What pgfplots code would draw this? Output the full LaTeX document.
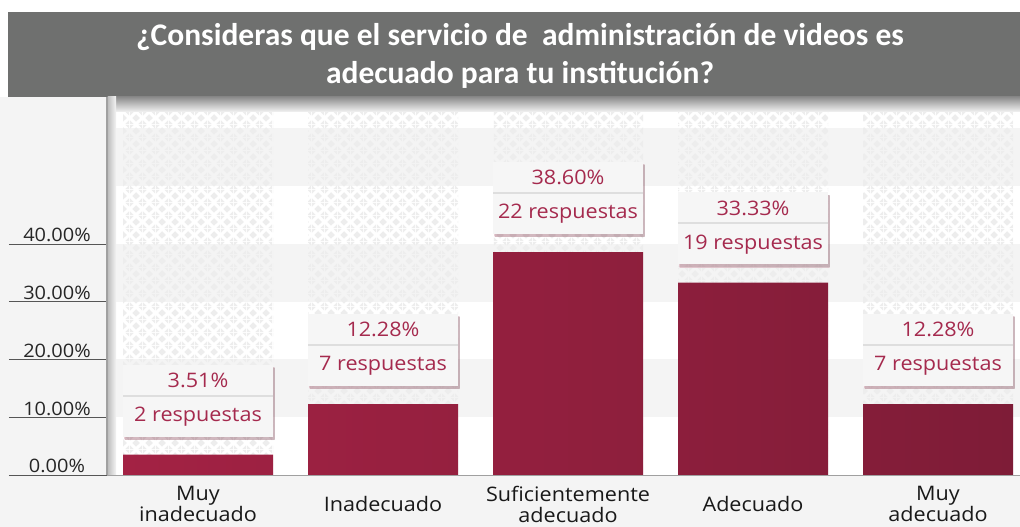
\documentclass[border=0pt]{standalone}
\usepackage{pgfplots}
\pgfplotsset{compat=1.18}
\usepackage{pgfplotstable}
\usetikzlibrary{patterns.meta,shadows}
\usepackage{fontspec}
\setmainfont{Open Sans}[FakeStretch=1.08]
\newfontfamily\titlefont{Carlito}
\definecolor{bgray}{HTML}{F4F4F4}
\definecolor{banner}{HTML}{6F706F}
\definecolor{barL}{HTML}{A32244}
\definecolor{barD}{HTML}{7E1C37}
\definecolor{lblc}{HTML}{A52A4E}
\definecolor{boxc}{HTML}{F6F6F6}
\definecolor{tickc}{HTML}{555555}
\definecolor{axc}{HTML}{A0A0A0}

\pgfdeclarepattern{
  name=diamonds,
  type=uncolored,
  bottom left={\pgfpoint{0pt}{0pt}},
  top right={\pgfpoint{13pt}{13pt}},
  tile size={\pgfpoint{13pt}{13pt}},
  code={
    \pgfpathmoveto{\pgfpoint{10.5pt}{6.5pt}}\pgfpathlineto{\pgfpoint{6.5pt}{10.5pt}}\pgfpathlineto{\pgfpoint{2.5pt}{6.5pt}}\pgfpathlineto{\pgfpoint{6.5pt}{2.5pt}}\pgfpathclose
    \pgfpathmoveto{\pgfpoint{4pt}{0pt}}\pgfpathlineto{\pgfpoint{0pt}{4pt}}\pgfpathlineto{\pgfpoint{0pt}{0pt}}\pgfpathclose
    \pgfpathmoveto{\pgfpoint{9pt}{0pt}}\pgfpathlineto{\pgfpoint{13pt}{4pt}}\pgfpathlineto{\pgfpoint{13pt}{0pt}}\pgfpathclose
    \pgfpathmoveto{\pgfpoint{0pt}{9pt}}\pgfpathlineto{\pgfpoint{4pt}{13pt}}\pgfpathlineto{\pgfpoint{0pt}{13pt}}\pgfpathclose
    \pgfpathmoveto{\pgfpoint{13pt}{9pt}}\pgfpathlineto{\pgfpoint{9pt}{13pt}}\pgfpathlineto{\pgfpoint{13pt}{13pt}}\pgfpathclose
    \pgfusepath{fill}
  }
}

\newcommand{\lbl}[2]{\vbox{\offinterlineskip
\hbox to 150pt{\hss\vrule height 23pt depth 7pt width 0pt #1\hss}
\hbox{{\color{black!13}\vrule height 2pt depth 0pt width 150pt}}
\hbox to 150pt{\hss\vrule height 25pt depth 15pt width 0pt #2\hss}}}

\pgfplotstableread{
x y n
0 3.51 2
1 12.28 7
2 38.60 22
3 33.33 19
4 12.28 7
}\datatable

\begin{document}
\begin{tikzpicture}[x=1pt,y=1pt]
\useasboundingbox (0,0) rectangle (1020,527);
\fill[bgray] (0,0) rectangle (1020,527);
\fill[white] (0,515) rectangle (1020,527);
\fill[white] (0,430) rectangle (8,515);
\fill[banner] (8,430) rectangle (1020,515);
\node[text=white, font=\titlefont\bfseries\fontsize{31.5}{36}\selectfont] at (520,490) {¿Consideras que el servicio de~ administración de videos es};
\node[text=white, font=\titlefont\bfseries\fontsize{31.5}{36}\selectfont] at (520,452) {adecuado para tu institución?};

\begin{axis}[
  at={(107pt,52pt)}, anchor=south west,
  scale only axis, width=913pt, height=375.4pt,
  xmin=-0.4919, xmax=4.4432, ymin=0, ymax=65,
  axis lines=left,
  axis line style={-, draw=axc, line width=1.5pt},
  xtick=data,
  xticklabels={{Muy\\inadecuado},{Inadecuado},{Suficientemente\\adecuado},{Adecuado},{Muy\\adecuado}},
  xticklabel style={align=center, anchor=center, yshift=-29pt, font=\fontsize{20}{21}\selectfont, text=black!90},
  xticklabel shift=-98pt,
  xtick style={draw=none},
  ytick={0,10,20,30,40},
  yticklabels={0.00\%,10.00\%,20.00\%,30.00\%,40.00\%},
  yticklabel style={anchor=base, xshift=-50pt, yshift=2pt, font=\fontsize{18.5}{20}\selectfont, text=black!85},
  yticklabel shift=-98pt,
  tick align=outside,
  major tick length=98pt,
  ytick style={draw=tickc, line width=0.9pt},
]
\fill[white] (axis cs:-0.4919,0) rectangle (axis cs:4.4432,10);
\fill[white] (axis cs:-0.4919,20) rectangle (axis cs:4.4432,30);
\fill[white] (axis cs:-0.4919,40) rectangle (axis cs:4.4432,50);
\fill[white] (axis cs:-0.4919,60) rectangle (axis cs:4.4432,62.9);
\pgfplotsinvokeforeach{0,1,2,3,4}{
  \fill[pattern=diamonds, pattern color=black!7] (axis cs:#1-0.4054,0) rectangle (axis cs:#1+0.4054,62.9);
}
\addplot[ybar, bar shift=0pt, bar width=150pt, draw=none, left color=barL, right color=barD,
  visualization depends on={\thisrow{n}\as\nresp},
  point meta=y,
  nodes near coords={\lbl{\pgfmathprintnumber[fixed,fixed zerofill,precision=2,assume math mode=true]{\pgfplotspointmeta}\%}{\pgfmathprintnumber[fixed,precision=0,assume math mode=true]{\nresp}\ respuestas}},
  nodes near coords style={anchor=south, yshift=18pt, inner sep=0pt, fill=boxc, text=lblc,
    font=\fontsize{20}{24}\selectfont,
    drop shadow={shadow xshift=1.5pt, shadow yshift=-3pt, opacity=0.22}},
] table[x=x, y=y] {\datatable};
\end{axis}
\shade[top color=black!45, bottom color=bgray] (107,415) rectangle (1020,430);
\shade[left color=black!25, right color=bgray] (108,52) rectangle (116,430);
\draw[axc, line width=1.5pt] (107,52) -- (107,430);
\end{tikzpicture}
\end{document}
